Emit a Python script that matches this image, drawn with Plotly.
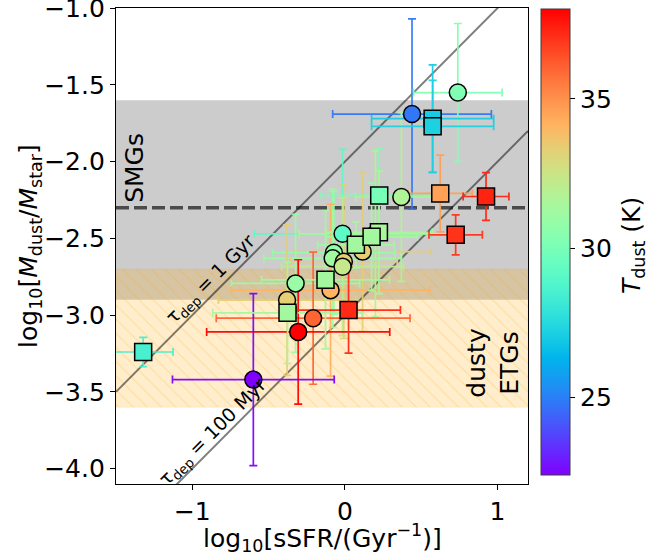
import math
import plotly.graph_objects as go

# ---------------- data ----------------
# circles: sSFR, Mdust/Mstar, errors, Tdust
circ_x    = [0.44, 0.74, 0.37, -0.015, 0.20, 0.116, -0.072, -0.08, -0.007, -0.015, -0.323, -0.094, -0.379, -0.208, -0.306, -0.60]
circ_y    = [-1.69, -1.55, -2.23, -2.47, -2.47, -2.586, -2.593, -2.63, -2.652, -2.684, -2.793, -2.837, -2.902, -3.02, -3.109, -3.42]
circ_xerr = [0.52, 0.29, 0.30, 0.58, 0.50, 0.45, 0.40, 0.45, 0.35, 0.40, 0.42, 0.65, 0.45, 0.635, 0.60, 0.53]
circ_yerr = [0.62, 0.45, 0.55, 0.55, 0.54, 0.52, 0.40, 0.45, 0.50, 0.45, 0.45, 0.56, 0.49, 0.43, 0.47, 0.56]
circ_T    = [24.8, 30.2, 31.7, 29.2, 31.7, 33.3, 30.8, 31.2, 33.3, 32.3, 31.0, 34.1, 33.3, 36.0, 38.0, 22.4]

# squares
sq_x    = [0.575, 0.575, 0.225, 0.072, 0.223, 0.175, -0.127, -0.376, 0.625, 0.925, 0.726, 0.024, -1.322]
sq_y    = [-1.72, -1.77, -2.22, -2.542, -2.46, -2.49, -2.77, -2.985, -2.207, -2.227, -2.477, -2.967, -3.24]
sq_xerr = [0.40, 0.40, 0.38, 0.25, 0.35, 0.30, 0.42, 0.49, 0.21, 0.15, 0.175, 0.34, 0.196]
sq_yerr = [0.35, 0.30, 0.31, 0.15, 0.40, 0.35, 0.45, 0.33, 0.25, 0.155, 0.13, 0.28, 0.095]
sq_T    = [27.0, 27.2, 30.0, 31.3, 31.5, 31.3, 31.3, 31.3, 34.6, 37.3, 37.0, 37.2, 28.5]

# reference populations
smg_band = [-2.9, -1.6]
etg_band = [-3.6, -2.7]
smg_median = -2.3
tau_dep_gyr = [1.0, 0.1]
tau_labels = ["τ<sub>dep</sub> = 1 Gyr", "τ<sub>dep</sub> = 100 Myr"]
gdr = 100.0

x_range = [-1.5, 1.2]
y_range = [-4.1, -0.999]
x_ticks = [-1, 0, 1]
y_ticks = [-4.0, -3.5, -3.0, -2.5, -2.0, -1.5, -1.0]
cb_ticks = [25, 30, 35]

# ---------------- colormap (matplotlib 'rainbow') ----------------
tmin = min(circ_T + sq_T)
tmax = max(circ_T + sq_T)

def rainbow(f):
    f = min(max(f, 0.0), 1.0)
    r = min(max(abs(2 * f - 0.5), 0.0), 1.0)
    g = min(max(math.sin(math.pi * f), 0.0), 1.0)
    b = min(max(math.cos(math.pi * f / 2), 0.0), 1.0)
    return "rgb(%d,%d,%d)" % (round(r * 255), round(g * 255), round(b * 255))

def tcol(t):
    return rainbow((t - tmin) / (tmax - tmin))

cscale = [[i / 20, rainbow(i / 20)] for i in range(21)]

FONT = "DejaVu Sans"
fig = go.Figure()

# gray SMG band
fig.add_shape(type="rect", xref="x", yref="y", x0=x_range[0], x1=x_range[1],
              y0=smg_band[0], y1=smg_band[1], fillcolor="rgba(128,128,128,0.4)",
              line=dict(width=0), layer="below")

# hatched ETG band
fig.add_trace(go.Scatter(
    x=[x_range[0], x_range[1], x_range[1], x_range[0], x_range[0]],
    y=[etg_band[0], etg_band[0], etg_band[1], etg_band[1], etg_band[0]],
    mode="lines", fill="toself", line=dict(width=0.5, color="rgba(255,165,0,0.25)"),
    fillcolor="rgba(255,165,0,0.2)",
    fillpattern=dict(shape="\\", fgcolor="rgba(255,165,0,0.5)", size=10, solidity=0.1),
    hoverinfo="skip", showlegend=False))

# SMG median dashed line
fig.add_trace(go.Scatter(x=x_range, y=[smg_median, smg_median], mode="lines",
                         line=dict(color="rgb(75,75,75)", width=3.5, dash="13px,5px"),
                         hoverinfo="skip", showlegend=False))

# depletion-time lines
for tau in tau_dep_gyr:
    off = math.log10(tau) - math.log10(gdr)
    fig.add_trace(go.Scatter(x=x_range, y=[x_range[0] + off, x_range[1] + off], mode="lines",
                             line=dict(color="rgba(0,0,0,0.5)", width=2),
                             hoverinfo="skip", showlegend=False))

# error bars, one trace per point
def add_err(x, y, xe, ye, t):
    c = tcol(t)
    fig.add_trace(go.Scatter(
        x=[x], y=[y], mode="markers", marker=dict(size=1, color="rgba(0,0,0,0)"),
        error_x=dict(type="data", array=[xe], color=c, thickness=1.7, width=4),
        error_y=dict(type="data", array=[ye], color=c, thickness=1.7, width=4),
        opacity=0.95, hoverinfo="skip", showlegend=False))

for i in range(len(circ_x)):
    add_err(circ_x[i], circ_y[i], circ_xerr[i], circ_yerr[i], circ_T[i])
for i in range(len(sq_x)):
    add_err(sq_x[i], sq_y[i], sq_xerr[i], sq_yerr[i], sq_T[i])

# markers
fig.add_trace(go.Scatter(
    x=circ_x, y=circ_y, mode="markers",
    marker=dict(symbol="circle", size=17, color=circ_T, colorscale=cscale, cmin=tmin, cmax=tmax,
                line=dict(color="black", width=1.5)),
    showlegend=False))
fig.add_trace(go.Scatter(
    x=sq_x, y=sq_y, mode="markers",
    marker=dict(symbol="square", size=17, color=sq_T, colorscale=cscale, cmin=tmin, cmax=tmax,
                line=dict(color="black", width=1.5),
                colorbar=dict(x=1.0316, xanchor="left", xref="paper", xpad=0, ypad=0,
                              y=0.508, yanchor="middle",
                              len=466, lenmode="pixels", thickness=29, thicknessmode="pixels",
                              outlinewidth=1, outlinecolor="rgb(60,60,60)",
                              tickvals=cb_ticks, ticks="outside", ticklen=5, tickwidth=1.3,
                              tickcolor="black",
                              tickfont=dict(family=FONT, size=25, color="black"))),
    showlegend=False))

ann = []
# tau labels
tau_pos = [(-0.875, -2.77), (-0.864, -3.765)]
for (ax_, ay_), txt in zip(tau_pos, tau_labels):
    ann.append(dict(x=ax_, y=ay_, xref="x", yref="y", text=txt, showarrow=False, textangle=-45,
                    font=dict(family=FONT, size=19, color="black"), xanchor="center", yanchor="middle"))
ann.append(dict(x=-1.375, y=-2.04, xref="x", yref="y", text="SMGs", showarrow=False, textangle=-90,
                font=dict(family=FONT, size=25, color="black")))
ann.append(dict(x=0.97, y=-3.31, xref="x", yref="y", text="dusty<br>ETGs", showarrow=False, textangle=-90,
                font=dict(family=FONT, size=25, color="black")))
# axis titles
ann.append(dict(x=0.5, y=-0.113, xref="paper", yref="paper", yanchor="middle",
                text="log<sub>10</sub>[sSFR/(Gyr<sup>−1</sup>)]", showarrow=False,
                font=dict(family=FONT, size=25, color="black")))
ann.append(dict(x=-0.209, y=0.5, xref="paper", yref="paper", xanchor="center", yanchor="middle",
                text="log<sub>10</sub>[<i>M</i><sub>dust</sub>/<i>M</i><sub>star</sub>]", showarrow=False,
                textangle=-90, font=dict(family=FONT, size=25, color="black")))
ann.append(dict(x=1.255, y=0.5, xref="paper", yref="paper", xanchor="center", yanchor="middle",
                text="<i>T</i><sub>dust</sub> (K)", showarrow=False,
                textangle=-90, font=dict(family=FONT, size=25, color="black")))

fig.update_layout(
    width=662, height=557,
    margin=dict(l=116, r=134, t=8, b=73, autoexpand=False),
    paper_bgcolor="white", plot_bgcolor="white",
    showlegend=False,
    annotations=ann,
    font=dict(family=FONT, color="black"),
    xaxis=dict(range=x_range, tickvals=x_ticks, showgrid=False, zeroline=False,
               showline=True, mirror=True, linecolor="black", linewidth=1.2,
               ticks="outside", ticklen=5, tickwidth=1.3, tickcolor="black",
               ticklabeloverflow="allow",
               tickfont=dict(family=FONT, size=25, color="black")),
    yaxis=dict(range=y_range, tickvals=y_ticks, tickformat=".1f", showgrid=False, zeroline=False,
               showline=True, mirror=True, linecolor="black", linewidth=1.2,
               ticks="outside", ticklen=5, tickwidth=1.3, tickcolor="black",
               ticklabeloverflow="allow",
               tickfont=dict(family=FONT, size=25, color="black")),
)

fig.write_html("out.html", config={"displayModeBar": False},
               post_script="document.body.style.margin='0';")
